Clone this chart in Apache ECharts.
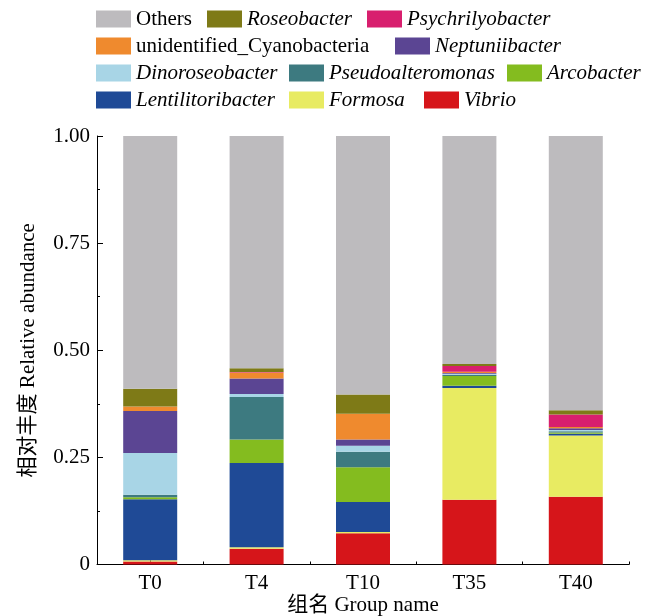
<!DOCTYPE html>
<html>
<head>
<meta charset="utf-8">
<script src="https://cdn.jsdelivr.net/npm/echarts@6/dist/echarts.min.js"></script>
<style>
  html, body { margin: 0; padding: 0; background: #fff; }
  #chart { width: 653px; height: 616px; }
</style>
</head>
<body>
<div id="chart"></div>
<script>
// Sampling groups
const groups = ['T0', 'T4', 'T10', 'T35', 'T40'];

// Relative abundance of each genus per group (stacked bottom to top)
const vibrio            = [0.007, 0.037, 0.073, 0.151, 0.158];
const formosa           = [0.003, 0.003, 0.003, 0.261, 0.143];
const lentilitoribacter = [0.142, 0.197, 0.070, 0.005, 0.004];
const arcobacter        = [0.005, 0.055, 0.081, 0.023, 0.003];
const pseudoalteromonas = [0.006, 0.099, 0.036, 0.003, 0.003];
const dinoroseobacter   = [0.097, 0.007, 0.014, 0.002, 0.003];
const neptuniibacter    = [0.098, 0.036, 0.015, 0.002, 0.004];
const cyanobacteria     = [0.011, 0.014, 0.060, 0.003, 0.003];
const psychrilyobacter  = [0.000, 0.001, 0.000, 0.013, 0.029];
const roseobacter       = [0.041, 0.009, 0.045, 0.005, 0.010];
const others            = [0.590, 0.542, 0.603, 0.532, 0.640];

// Y-axis tick labels
const yTicks = [0, 0.25, 0.5, 0.75, 1.0];
const yTickLabels = ['0', '0.25', '0.50', '0.75', '1.00'];

const taxa = [
  { name: 'Vibrio',                     data: vibrio,            color: '#D6151A', italic: true },
  { name: 'Formosa',                    data: formosa,           color: '#E8EB62', italic: true },
  { name: 'Lentilitoribacter',          data: lentilitoribacter, color: '#1F4A96', italic: true },
  { name: 'Arcobacter',                 data: arcobacter,        color: '#84BC1F', italic: true },
  { name: 'Pseudoalteromonas',          data: pseudoalteromonas, color: '#3D7A80', italic: true },
  { name: 'Dinoroseobacter',            data: dinoroseobacter,   color: '#A8D5E6', italic: true },
  { name: 'Neptuniibacter',             data: neptuniibacter,    color: '#5B4593', italic: true },
  { name: 'unidentified_Cyanobacteria', data: cyanobacteria,     color: '#EF8A2E', italic: false },
  { name: 'Psychrilyobacter',           data: psychrilyobacter,  color: '#D81F6E', italic: true },
  { name: 'Roseobacter',                data: roseobacter,       color: '#7E7A17', italic: true },
  { name: 'Others',                     data: others,            color: '#BDBBBE', italic: false }
];

const FONT = "'Liberation Serif', 'Times New Roman', 'Noto Sans CJK SC', serif";
const FS = 21;

// Legend rows: [name, left, centerY]
const legendLayout = [
  ['Others', 96, 19], ['Roseobacter', 207, 19], ['Psychrilyobacter', 367, 19],
  ['unidentified_Cyanobacteria', 96, 46], ['Neptuniibacter', 395, 46],
  ['Dinoroseobacter', 96, 73], ['Pseudoalteromonas', 289, 73], ['Arcobacter', 507, 73],
  ['Lentilitoribacter', 96, 100], ['Formosa', 289, 100], ['Vibrio', 424, 100]
];

const legends = legendLayout.map(([name, left, cy]) => {
  const t = taxa.find(d => d.name === name);
  return {
    data: [{ name: name, textStyle: { fontStyle: t.italic ? 'italic' : 'normal' } }],
    left: left,
    top: cy - 12,
    padding: 0,
    itemGap: 0,
    itemWidth: 35,
    itemHeight: 17,
    icon: 'rect',
    selectedMode: false,
    textStyle: { fontFamily: FONT, fontSize: FS, color: '#000', lineHeight: 24 }
  };
});

const option = {
  animation: false,
  backgroundColor: '#fff',
  legend: legends,
  grid: { left: 97, right: 24, top: 136, bottom: 51.5, containLabel: false, outerBoundsMode: 'none' },
  xAxis: [
    {
      type: 'category',
      data: groups,
      position: 'bottom',
      name: '组名 Group name',
      nameLocation: 'middle',
      nameGap: 30,
      nameMoveOverlap: false,
      nameTextStyle: { fontFamily: FONT, fontSize: FS, color: '#000' },
      axisLine: { lineStyle: { color: '#000', width: 1 } },
      axisTick: { show: true, inside: true, alignWithLabel: true, length: 6, lineStyle: { color: '#000' } },
      axisLabel: { fontFamily: FONT, fontSize: FS, color: '#000', margin: 8 }
    },
    {
      // boundary ticks between groups
      type: 'category',
      data: groups,
      position: 'bottom',
      axisLine: { show: false },
      axisTick: { show: true, inside: true, alignWithLabel: false, length: 3, lineStyle: { color: '#000' } },
      axisLabel: { show: false }
    }
  ],
  yAxis: {
    type: 'value',
    min: 0,
    max: 1,
    interval: 0.25,
    name: '相对丰度 Relative abundance',
    nameLocation: 'middle',
    nameGap: 58,
    nameMoveOverlap: false,
    nameTextStyle: { fontFamily: FONT, fontSize: FS, color: '#000' },
    axisLine: { show: true, lineStyle: { color: '#000', width: 1 } },
    axisTick: { show: true, inside: true, length: 6, lineStyle: { color: '#000' } },
    minorTick: { show: true, splitNumber: 2, length: 3, lineStyle: { color: '#000' } },
    splitLine: { show: false },
    axisLabel: {
      fontFamily: FONT, fontSize: FS, color: '#000', margin: 7,
      formatter: v => {
        const i = yTicks.findIndex(t => Math.abs(t - v) < 1e-9);
        return i >= 0 ? yTickLabels[i] : '';
      }
    }
  },
  series: taxa.map(t => ({
    name: t.name,
    type: 'bar',
    stack: 'abundance',
    xAxisIndex: 0,
    barWidth: 54,
    data: t.data,
    itemStyle: { color: t.color },
    emphasis: { disabled: true }
  }))
};

const chart = echarts.init(document.getElementById('chart'), null, { renderer: 'canvas' });
chart.setOption(option);
</script>
</body>
</html>
